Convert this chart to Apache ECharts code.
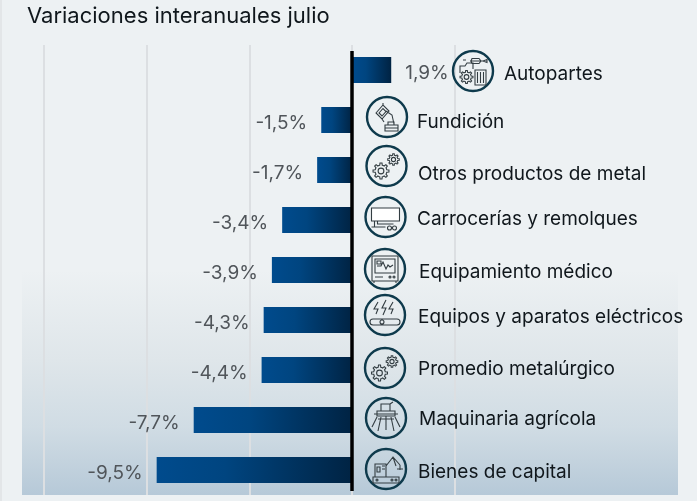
<!DOCTYPE html>
<html><head><meta charset="utf-8">
<style>html,body{margin:0;padding:0;background:#edf1f3}#c{width:697px;height:501px}</style>
<script src="https://cdn.jsdelivr.net/npm/echarts@6/dist/echarts.min.js"></script>
</head><body><div id="c"></div>
<script>
const categories = ['Autopartes','Fundición','Otros productos de metal','Carrocerías y remolques','Equipamiento médico','Equipos y aparatos eléctricos','Promedio metalúrgico','Maquinaria agrícola','Bienes de capital'];
const values = [1.9,-1.5,-1.7,-3.4,-3.9,-4.3,-4.4,-7.7,-9.5];
const valueLabels = ['1,9%','-1,5%','-1,7%','-3,4%','-3,9%','-4,3%','-4,4%','-7,7%','-9,5%'];
const titleText = 'Variaciones interanuales julio';

// layout of the icon + name blocks, beside each bar
const iconX = [473,387,386.5,385.5,385,385,385,386,386];
const iconDy = [1,-3,-4,-3,-1,-5,-2,-2,-1];
const textX = [504,417,418,417,419,418,418,419,418];
const textDy = [4,2,4,-1,2,-3,-1,-1,2];

function gear(cx,cy,r,n){
  let d='';const ro=r,ri=r*0.74;
  for(let i=0;i<n;i++){
    const s=2*Math.PI/n,a=i*s;
    const p=[[ri,a-s*.5],[ri,a-s*.28],[ro,a-s*.16],[ro,a+s*.16],[ri,a+s*.28]];
    p.forEach((q,j)=>{d+=(i===0&&j===0?'M':'L')+(cx+q[0]*Math.cos(q[1])).toFixed(2)+' '+(cy+q[0]*Math.sin(q[1])).toFixed(2)+' ';});
  }
  d+='Z ';
  const h=r*0.36;
  d+=`M${cx-h} ${cy}A${h} ${h} 0 1 0 ${cx+h} ${cy}A${h} ${h} 0 1 0 ${cx-h} ${cy}Z `;
  return d;
}
const gears = gear(14.5,25,8,8)+gear(27,13.5,5.8,8);
const icons = [
  gear(13.5,26,6.5,8)+'M22 19h11v15h-11zM24.5 21v11M27.5 21v11M30.5 21v11M7 22v-7h5l2-3h6v6M10 9h3M17 10h13M30 10l4-1.5v3zM19 7.5l7 0 2 2.5-2 2.5h-7l-1-2.5z',
  'M9 16l7-8 6 6-7 8zM12 16l4-4.5 3 3-4 4.5zM16 9v-3M19 14l6 4 2 9M15 22l2 3M18 28h13v3h-13zM18 31h13v3h-13zM21 25h6v3h-6z',
  gears,
  'M6 11h28v13h-28zM9 24v6h-3M6 30h14M12 24v3h16M22 31a2 2 0 1 0 4 0a2 2 0 1 0-4 0M27 31a2 2 0 1 0 4 0a2 2 0 1 0-4 0',
  'M7 7h26v25h-26zM10 10h20v14h-20zM12 17h4l2-4 3 7 2-4 2 2 3-2M12 12h4v3h-4zM10 28h8M24 28a1 1 0 1 0 2 0a1 1 0 1 0-2 0M28 28a1 1 0 1 0 2 0a1 1 0 1 0-2 0M9 32v2M31 32v2',
  'M13 7l-4 7h4l-2 5M21 5l-4 8h4l-3 7M28 7l-4 7h4l-2 5M8 24h24M8 30h24M8 24a3 3 0 1 0 0 6M32 24a3 3 0 1 1 0 6M15 27a2 2 0 1 0 4 0a2 2 0 1 0-4 0',
  gears,
  'M15 6h9v7h-9zM11 13h18v5h-18zM8 16h24M20 18v14M15 19l-3 14M11 19l-5 10M25 19l3 14M29 19l5 10M12 21h16M24 6l3-2',
  'M7 28h26v6h-26zM10 31a1 1 0 1 0 2 0a1 1 0 1 0-2 0M25 31a1 1 0 1 0 2 0a1 1 0 1 0-2 0M29 31a1 1 0 1 0 2 0a1 1 0 1 0-2 0M9 15h11v13h-11zM11 18h3v5h-3zM16 17h3M16 20h3M20 17l7-9 7 8M27 8l3 9M34 16v5M31 20h6'
].map(d=>'M0 0h.01M40 40h.01'+d);

const chart = echarts.init(document.getElementById('c'), null, {renderer:'canvas'});
const FONT = 'Inter';
function renderIcon(params, api){
  const i = api.value(1), cy = api.coord([0,i])[1];
  const x = iconX[i], y = cy + iconDy[i];
  const kids = [
    {type:'circle', shape:{cx:x,cy:y,r:20}, style:{fill:'none',stroke:'#0e3a4c',lineWidth:2.4}},
    {type:'path', shape:{pathData:icons[i],x:x-20,y:y-20,width:40,height:40}, style:{fill:'none',stroke:'#333d42',lineWidth:1.1}},
    {type:'text', x:textX[i], y:cy+textDy[i], style:{text:categories[i],fill:'#10171c',font:'400 19px '+FONT,textAlign:'left',textVerticalAlign:'middle'}}
  ];
  if(i===3) kids.splice(1,0,{type:'rect',shape:{x:x-14,y:y-9,width:28,height:13},style:{fill:'#ffffff'}});
  return {type:'group', children:kids};
}
chart.setOption({
  animation:false,
  backgroundColor:'#edf1f3',
  title:{text:titleText,left:22,top:0,textStyle:{fontFamily:FONT,fontSize:22,fontWeight:400,color:'#10171c'}},
  graphic:[
    {type:'rect',z:-10,shape:{x:22,y:270,width:656,height:225},style:{fill:new echarts.graphic.LinearGradient(0,0,0,1,[{offset:0,color:'#edf1f3'},{offset:0.4,color:'#dfe6ea'},{offset:0.7,color:'#d0dce4'},{offset:0.844,color:'#c4d3de'},{offset:1,color:'#b6c9d8'}])}},
    {type:'rect',z:-10,shape:{x:0,y:0,width:2,height:501},style:{fill:'#e3e6e8'}}
  ],
  grid:{left:43.5,right:242,top:45,height:450},
  xAxis:{type:'value',min:-15,max:5,interval:5,axisLine:{show:false},axisTick:{show:false},axisLabel:{show:false},
    splitLine:{show:true,lineStyle:{color:'#dcdfe2',width:2}}},
  yAxis:{type:'category',inverse:true,data:categories,axisLine:{show:false},axisTick:{show:false},axisLabel:{show:false},splitLine:{show:false}},
  series:[
    {type:'bar',barWidth:26,silent:true,
     data:values.map((v,i)=>({value:v,label:{position:v<0?'left':'right',distance:14,formatter:valueLabels[i]}})),
     itemStyle:{color:new echarts.graphic.LinearGradient(0,0,1,0,[{offset:0,color:'#004b8d'},{offset:0.35,color:'#004580'},{offset:1,color:'#002343'}])},
     label:{show:true,fontFamily:FONT,fontSize:19,color:'#50555a',offset:[0,3]},
     markLine:{silent:true,symbol:'none',label:{show:false},lineStyle:{color:'#000',width:3.5,type:'solid'},
       data:[[{xAxis:0,y:51},{xAxis:0,y:491}]]},
     z:2},
    {type:'custom',silent:true,clip:false,coordinateSystem:'cartesian2d',
     data:categories.map((c,i)=>[0,i]),encode:{x:0,y:1},renderItem:renderIcon,z:5}
  ]
});
</script></body></html>
